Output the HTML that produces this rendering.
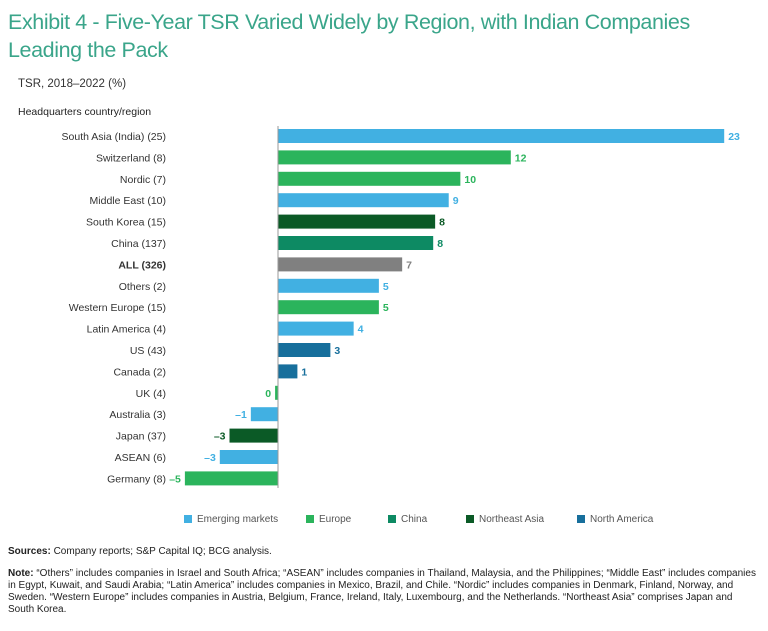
<!DOCTYPE html>
<html><head><meta charset="utf-8"><style>
body{margin:0;width:768px;height:631px;background:#fff;font-family:"Liberation Sans",sans-serif;overflow:hidden;position:relative}
.t{position:absolute;left:8px;top:8px;font-size:21.5px;letter-spacing:-0.4px;line-height:28px;color:#3aa58a;width:755px}
.sub{position:absolute;left:18px;top:78px;font-size:11.5px;color:#333}
.hq{position:absolute;left:18px;top:106px;font-size:10.5px;color:#222}
.src{position:absolute;left:8px;top:546px;font-size:10px;color:#222;width:752px;line-height:12px}
.note{position:absolute;left:8px;top:568px;font-size:10px;color:#222;width:752px;line-height:12px}
svg{position:absolute;left:0;top:0}
</style></head><body>
<div class="t">Exhibit 4 - Five-Year TSR Varied Widely by Region, with Indian Companies Leading the Pack</div>
<div class="sub">TSR, 2018–2022 (%)</div>
<div class="hq">Headquarters country/region</div>
<svg id="c" width="768" height="540"></svg>
<div class="src"><b>Sources:</b> Company reports; S&amp;P Capital IQ; BCG analysis.</div>
<div class="note"><b>Note:</b> “Others” includes companies in Israel and South Africa; “ASEAN” includes companies in Thailand, Malaysia, and the Philippines; “Middle East” includes companies in Egypt, Kuwait, and Saudi Arabia; “Latin America” includes companies in Mexico, Brazil, and Chile. “Nordic” includes companies in Denmark, Finland, Norway, and Sweden. “Western Europe” includes companies in Austria, Belgium, France, Ireland, Italy, Luxembourg, and the Netherlands. “Northeast Asia” comprises Japan and South Korea.</div>
<script>
const categories=["South Asia (India) (25)","Switzerland (8)","Nordic (7)","Middle East (10)","South Korea (15)","China (137)","ALL (326)","Others (2)","Western Europe (15)","Latin America (4)","US (43)","Canada (2)","UK (4)","Australia (3)","Japan (37)","ASEAN (6)","Germany (8)"];
const values=[23,12,9.4,8.8,8.1,8.0,6.4,5.2,5.2,3.9,2.7,1.0,-0.15,-1.4,-2.5,-3.0,-4.8];
const labels=["23","12","10","9","8","8","7","5","5","4","3","1","0","–1","–3","–3","–5"];
const groups=["em","eu","eu","em","nea","cn","all","em","eu","em","na","na","eu","em","nea","em","eu"];
const legendNames=["Emerging markets","Europe","China","Northeast Asia","North America"];
const legendKeys=["em","eu","cn","nea","na"];
const colors={em:"#41b0e2",eu:"#2bb45c",cn:"#0d8a63",nea:"#0b5a26",na:"#176f9c",all:"#808080"};
const NS="http://www.w3.org/2000/svg",svg=document.getElementById("c");
const x0=278,k=19.4,y0=136,step=21.4,bh=14;
const X=v=>x0+v*k, Y=i=>y0+i*step;
function el(t,a){const e=document.createElementNS(NS,t);for(const n in a)e.setAttribute(n,a[n]);svg.appendChild(e);return e;}
categories.forEach((c,i)=>{
 const v=values[i],xa=Math.min(X(0),X(v)),w=Math.max(Math.abs(X(v)-X(0)),1.5);
 const col=colors[groups[i]];
 const r=el("rect",{x:xa,y:Y(i)-bh/2,width:w,height:bh,fill:col});
 
 
 const t=el("text",{x:166,y:Y(i)+4,"text-anchor":"end","font-size":"10.5",fill:"#333","font-weight":groups[i]=="all"?"bold":"normal"});
 t.textContent=c;
 
 
 const vl=el("text",{x:v>=0?X(v)+4:X(v)-4,y:Y(i)+4,"text-anchor":v>=0?"start":"end","font-size":"10.5","font-weight":"bold",fill:col});
 vl.textContent=labels[i];
 
 
});
const ax=el("line",{x1:x0,x2:x0,y1:126,y2:488,stroke:"#999","stroke-width":1});


const lx=[184,306,388,466,577];
legendNames.forEach((n,i)=>{
 const r=el("rect",{x:lx[i],y:515,width:8,height:8,fill:colors[legendKeys[i]]});
 
 
 const t=el("text",{x:lx[i]+13,y:522,"font-size":"10",fill:"#555"});
 t.textContent=n;
 
 
});
</script>
</body></html>
